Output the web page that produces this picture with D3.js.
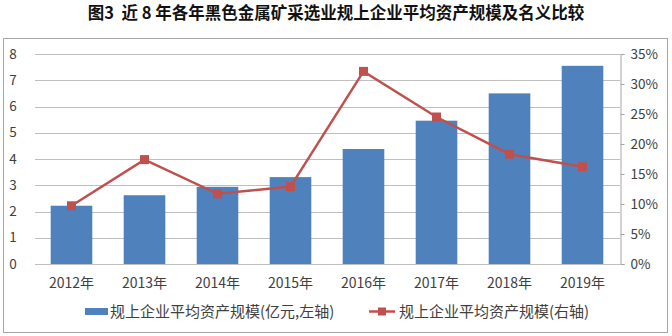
<!DOCTYPE html>
<html><head><meta charset="utf-8">
<script src="https://cdn.jsdelivr.net/npm/d3@7/dist/d3.min.js"></script>
<style>body{margin:0;background:#fff;}svg{display:block;}</style>
</head><body>
<svg id="chart" width="672" height="336"></svg>
<script>
const title = "图3 近8年各年黑色金属矿采选业规上企业平均资产规模及名义比较";
const categories = ["2012年","2013年","2014年","2015年","2016年","2017年","2018年","2019年"];
const assetScale = [2.22, 2.62, 2.94, 3.31, 4.38, 5.46, 6.50, 7.55];
const ratioPct = [9.7, 17.4, 11.7, 12.9, 32.1, 24.5, 18.3, 16.2];
const leftTicks = [0,1,2,3,4,5,6,7,8];
const rightTicks = [0,5,10,15,20,25,30,35];
const legendBar = "规上企业平均资产规模(亿元,左轴)";
const legendLine = "规上企业平均资产规模(右轴)";

const svg = d3.select("#chart");
const font = "'Noto Sans CJK SC', 'Noto Sans', sans-serif";
const blue = "#4F81BD", red = "#C0504D", grid = "#BFBFBF";

svg.append("rect").attr("width",672).attr("height",336).attr("fill","#fff");
// frame
svg.append("rect").attr("x",3.5).attr("y",38.5).attr("width",664).attr("height",294)
  .attr("fill","none").attr("stroke","#A6A6A6").attr("stroke-width",1);

svg.append("text").attr("x",336).attr("y",13).attr("dy","0.35em").attr("text-anchor","middle")
  .attr("font-family",font).attr("font-weight",700).attr("font-size",16.5)
  .attr("fill","#111").attr("xml:space","preserve").text(title.replace("图3 近8年","图3  近 8 年"));

const x = d3.scaleBand().domain(categories).range([35,619]).paddingInner(0.43).paddingOuter(0.215);
const y = d3.scaleLinear().domain([0,8]).range([264,54]);
const y2 = d3.scaleLinear().domain([0,35]).range([264,54]);

// gridlines
svg.append("g").selectAll("line").data(leftTicks).join("line")
  .attr("x1",35).attr("x2",620).attr("y1",d=>Math.round(y(d))+0.5).attr("y2",d=>Math.round(y(d))+0.5)
  .attr("stroke",grid).attr("stroke-width",1);

// left axis labels
svg.append("g").selectAll("text").data(leftTicks).join("text")
  .attr("x",13).attr("y",d=>y(d)).attr("dy","0.35em").attr("text-anchor","middle")
  .attr("font-family",font).attr("font-size",13.5).attr("fill","#404040").text(d=>d);

// right axis
const rAxis = d3.axisRight(y2).tickValues(rightTicks).tickSize(4).tickFormat(d=>d+"%");
const rg = svg.append("g").attr("transform","translate(620.5,0)").call(rAxis);
rg.select(".domain").attr("stroke","#A6A6A6");
rg.selectAll(".tick line").attr("stroke","#A6A6A6");
rg.selectAll(".tick text").attr("x",10).attr("font-family",font).attr("font-size",13.5).attr("fill","#404040");

// bars
svg.append("g").selectAll("rect").data(assetScale).join("rect")
  .attr("x",(d,i)=>x(categories[i])).attr("width",x.bandwidth())
  .attr("y",d=>y(d)).attr("height",d=>y(0)-y(d)).attr("fill",blue);

// x labels
svg.append("g").selectAll("text").data(categories).join("text")
  .attr("x",d=>x(d)+x.bandwidth()/2).attr("y",283).attr("dy","0.35em").attr("text-anchor","middle")
  .attr("font-family",font).attr("font-size",14).attr("fill","#404040").text(d=>d);

// line
const cx = i => x(categories[i])+x.bandwidth()/2;
const line = d3.line().x((d,i)=>cx(i)).y(d=>y2(d));
svg.append("path").datum(ratioPct).attr("d",line).attr("fill","none")
  .attr("stroke",red).attr("stroke-width",2.5);
svg.append("g").selectAll("rect").data(ratioPct).join("rect")
  .attr("x",(d,i)=>cx(i)-4.5).attr("y",d=>y2(d)-4.5).attr("width",9).attr("height",9).attr("fill",red);

// legend
svg.append("rect").attr("x",85).attr("y",308).attr("width",23).attr("height",7).attr("fill",blue);
svg.append("text").attr("x",110).attr("y",311.5).attr("dy","0.35em")
  .attr("font-family",font).attr("font-size",15).attr("fill","#404040").text(legendBar);
svg.append("line").attr("x1",369).attr("x2",395).attr("y1",311.5).attr("y2",311.5)
  .attr("stroke",red).attr("stroke-width",2.5);
svg.append("rect").attr("x",378).attr("y",307.5).attr("width",8).attr("height",8).attr("fill",red);
svg.append("text").attr("x",399).attr("y",311.5).attr("dy","0.35em")
  .attr("font-family",font).attr("font-size",15).attr("fill","#404040").text(legendLine);
</script>
</body></html>
